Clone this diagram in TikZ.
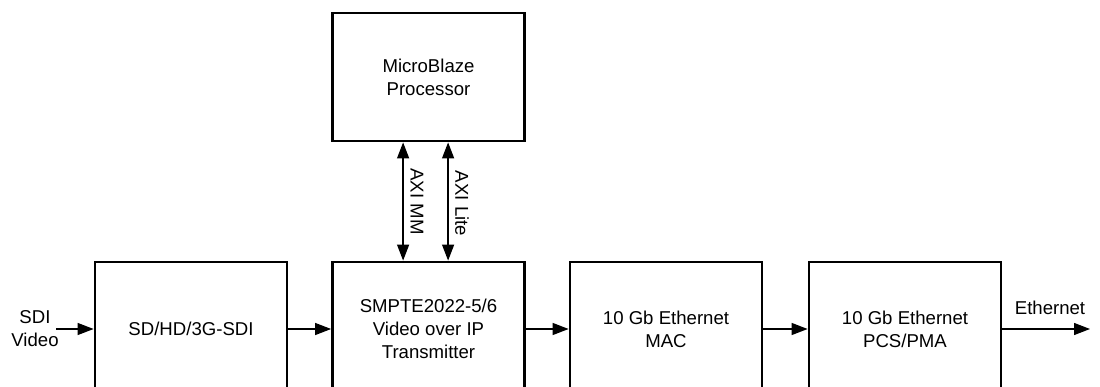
\documentclass[tikz,border=0pt]{standalone}
\usepackage{fontspec}
\setmainfont{Liberation Sans}
\usetikzlibrary{arrows.meta}
\begin{document}
\begin{tikzpicture}[x=1pt,y=-1pt,
  blk/.style={draw, line width=2.8pt, minimum width=192pt, align=center, inner sep=0pt,
              font=\fontsize{18.6}{23}\selectfont},
  conn/.style={line width=1.3pt, -{Triangle[length=16pt,width=12pt]}},
  biconn/.style={line width=1.3pt, {Triangle[length=16pt,width=12pt]}-{Triangle[length=16pt,width=12pt]}},
  lbl/.style={font=\fontsize{18.6}{23}\selectfont, align=center, inner sep=0pt}]
\useasboundingbox (0,0) rectangle (1100,387);
\node[blk, minimum height=128pt] (mb) at (428.5,77) {MicroBlaze\\Processor};
\node[blk, minimum height=134pt] (sdi) at (191,329) {SD/HD/3G-SDI};
\node[blk, minimum height=134pt] (tx) at (428.5,329) {SMPTE2022-5/6\\Video over IP\\Transmitter};
\node[blk, minimum height=134pt] (mac) at (666,329) {10 Gb Ethernet\\MAC};
\node[blk, minimum height=134pt] (pcs) at (905,329) {10 Gb Ethernet\\PCS/PMA};
\node[lbl] (in) at (35,329) {SDI\\Video};
\coordinate (inp) at (56,329);
\coordinate (outp) at (1090,329);
\node[lbl] (eth) at (1050,308) {Ethernet};
\draw[conn] (inp) -- (sdi.west);
\draw[conn] (sdi.east) -- (tx.west);
\draw[conn] (tx.east) -- (mac.west);
\draw[conn] (mac.east) -- (pcs.west);
\draw[conn] (pcs.east) -- (outp);
\draw[biconn] ([xshift=72pt]mb.south west) -- ([xshift=72pt]tx.north west)
  node[midway, xshift=14pt, rotate=-90, lbl] {AXI MM};
\draw[biconn] ([xshift=117pt]mb.south west) -- ([xshift=117pt]tx.north west)
  node[midway, xshift=14pt, yshift=-2pt, rotate=-90, lbl] {AXI Lite};
\end{tikzpicture}
\end{document}
